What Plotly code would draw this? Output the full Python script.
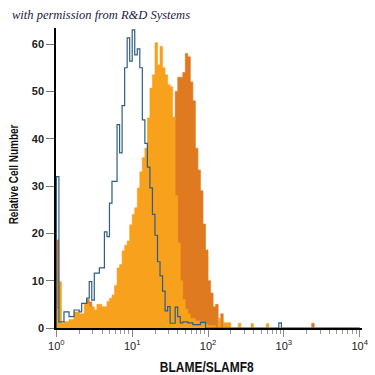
import numpy as np
import plotly.graph_objects as go

# histogram bins: 30 bins per decade, from 10^0 to 10^4
BINS_PER_DECADE = 30
N_BINS = 120

# isotype control (blue outline)
control_counts = [
    32, 1.3, 1.3, 3.4, 3.4, 2.4, 2.4, 3.8, 3.8, 3.4,
    5.2, 5.2, 6.3, 9.8, 5.9, 11.6, 11.6, 12.7, 12.7, 20.3,
    19.3, 26.4, 31, 31, 43, 37, 47, 55, 61.3, 56.4,
    63, 57.7, 59, 55, 44, 39, 34, 29.6, 24, 19.6,
    14, 11, 7.8, 3.6, 4.5, 1, 1, 4.4, 2.4, 1.1,
    1.3, 1.3, 1.1, 1.1, 0.7, 0.7, 0.7, 1.2, 1.2, 0,
    0, 0, 0, 0, 0, 0, 0, 0, 0, 0,
    0, 0, 0, 0, 0, 0, 0, 0, 0, 0,
    0, 0, 0, 0, 0, 0, 0, 0, 1.1, 0,
]

# light orange filled histogram
light_counts = [
    4, 9.8, 1.0, 1.4, 1.4, 1.8, 1.8, 3.4, 3.4, 3.0,
    3.0, 5.2, 5.2, 4.5, 4.5, 3.8, 5.0, 5.0, 4.5, 4.5,
    5.6, 6.3, 7.0, 9.0, 12.7, 13.4, 16.3, 17.5, 18.4, 21.8,
    24, 25.4, 29.6, 33, 36, 38, 44.4, 50.7, 53.5, 60.3,
    55.6, 59.5, 55, 53.5, 51.4, 51, 44.6, 28, 18, 10,
    6, 4, 3, 2, 2, 1.5, 1.5, 1, 1, 0.8,
    0.5, 0.5, 0.5, 0, 2.1, 0, 1.1, 1.1, 1.1, 0,
    0, 0, 1.0, 0, 0, 0, 0, 0.9, 0, 0,
    0, 0, 0, 0.9, 0,
]

# dark orange filled histogram
dark_counts = [
    18.6, 1, 0, 0, 0, 0, 0, 0, 0, 0,
    0, 0, 6, 5.5, 3, 3, 3, 3, 3, 3,
    3, 4, 4, 5, 5, 6, 6, 6, 7, 7,
    8, 10, 12, 14, 17, 20, 23, 26, 30, 33,
    36, 38, 40, 42, 43, 44, 44, 50, 53, 53,
    54, 58, 57.3, 52, 48, 38, 33.4, 29, 22, 16.5,
    10, 7.4, 4.5, 5, 1.5, 3, 1, 0.5, 0, 0,
    0, 0, 0, 0, 0, 0, 0, 0, 0, 0,
    0, 0, 0, 0, 0, 0, 0, 0, 0, 0,
    0, 0, 0, 0, 0, 0, 0, 0, 0, 0,
    0, 1.0, 0,
]

y_tick_values = [0, 10, 20, 30, 40, 50, 60]
x_tick_values = [1, 10, 100, 1000, 10000]
x_tick_labels = ["10<sup>0</sup>", "10<sup>1</sup>", "10<sup>2</sup>",
                 "10<sup>3</sup>", "10<sup>4</sup>"]

edges = 10 ** (np.arange(N_BINS + 1) / BINS_PER_DECADE)


def step_xy(counts):
    c = np.zeros(N_BINS)
    c[:len(counts)] = counts
    xs = np.concatenate([[edges[0]], edges[:-1], [edges[-1]]])
    ys = np.concatenate([[0], c, [0]])
    return xs, ys


fig = go.Figure()
for counts, color in [(dark_counts, "#DF7A20"), (light_counts, "#F8A11D")]:
    xs, ys = step_xy(counts)
    fig.add_trace(go.Scatter(x=xs, y=ys, mode="lines", line=dict(shape="hv", width=0.6, color=color),
                             fill="tozeroy", fillcolor=color, hoverinfo="skip", showlegend=False))
xs, ys = step_xy(control_counts)
fig.add_trace(go.Scatter(x=xs, y=ys, mode="lines", line=dict(shape="hv", width=1.2, color="#2D5F84"),
                         hoverinfo="skip", showlegend=False))

minor_vals = [m * 10 ** k for k in range(4) for m in range(2, 10)]
label_font = "Liberation Sans, Arial, sans-serif"

fig.update_layout(
    width=375, height=375,
    margin=dict(l=56, r=13, t=28, b=47, autoexpand=False),
    paper_bgcolor="white", plot_bgcolor="white",
    xaxis=dict(type="log", range=[-0.005, 4.03], showline=True, linecolor="black", linewidth=1.5,
               automargin=False,
               ticks="outside", ticklen=7, tickcolor="#888", tickwidth=1,
               tickvals=x_tick_values, ticktext=x_tick_labels, showgrid=False, zeroline=False,
               tickfont=dict(family="Liberation Sans, Arial, sans-serif", size=11, color="#222"),
               minor=dict(ticks="outside", ticklen=4, tickcolor="#999", tickvals=minor_vals, showgrid=False)),
    yaxis=dict(range=[0, 63.4], showline=True, linecolor="black", linewidth=1.5,
               automargin=False,
               ticks="outside", ticklen=8, tickcolor="#777", tickwidth=1,
               tickvals=y_tick_values, showgrid=False, zeroline=False,
               tickfont=dict(family="Liberation Sans, Arial, sans-serif", size=11, color="#222", weight="bold")),
    annotations=[
        dict(text="with permission from R&amp;D Systems", xref="paper", yref="paper",
             x=(10 - 56) / 306, y=(328 - 15) / 300, xanchor="left", yanchor="middle", showarrow=False,
             font=dict(family="Liberation Serif, DejaVu Serif, serif", size=12.5, color="#1a1a40", style="italic")),
        dict(text="<b>Relative Cell Number</b>", xref="paper", yref="paper",
             x=(14 - 56) / 306, y=(328 - 174) / 300, xanchor="center", yanchor="middle",
             textangle=-90, showarrow=False,
             font=dict(family=label_font, size=12.5, color="#111")),
        dict(text="<b>BLAME/SLAMF8</b>", xref="paper", yref="paper",
             x=(207 - 56) / 306, y=(328 - 366) / 300, xanchor="center", yanchor="middle",
             showarrow=False, font=dict(family=label_font, size=15, color="#111")),
    ],
)

# condense the two axis titles horizontally (the reference uses a narrow typeface)
post = """
document.body.style.margin='0';
document.body.style.overflow='hidden';
var ts = document.querySelectorAll('.annotation-text');
ts.forEach(function(t){
  var s = t.textContent;
  if (s.indexOf('Relative') === 0 || s.indexOf('BLAME') === 0) {
    t.style.transformBox = 'fill-box';
    t.style.transformOrigin = 'center';
    t.style.transform = 'scaleX(0.8)';
  }
});
"""

fig.write_html("out.html", post_script=post, config={"displayModeBar": False})
